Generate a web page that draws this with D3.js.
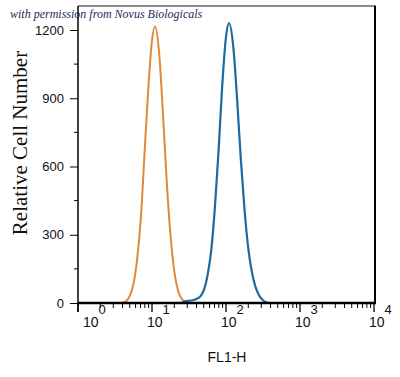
<html>
<head>
<meta charset="UTF-8">
<script src="https://d3js.org/d3.v7.min.js"></script>
<style>
  body { margin: 0; background: #fff; }
  .tick text { font-family: "Liberation Sans", Arial, sans-serif; }
</style>
</head>
<body>
<svg id="svg1" width="400" height="377"></svg>
<script>
  // FL1-H channel values and cell counts
  const isotypeFL1 = [4.0, 4.5, 5.0, 5.6, 6.3, 7.1, 7.9, 8.9, 10, 11, 12.6, 14.1, 15.8, 17.8, 20, 22.4, 25.1, 28.2, 31.6];
  const isotypeCount = [0, 9, 30, 82, 193, 383, 649, 938, 1154, 1215, 1083, 825, 536, 296, 140, 56, 19, 6, 0];

  const stainedFL1 = [25.1, 28.2, 31.6, 35.5, 39.8, 44.7, 50.1, 56.2, 63.1, 70.8, 79.4, 89.1, 100, 110, 126, 141, 158, 178, 200, 224, 251, 282, 316, 355, 398];
  const stainedCount = [0, 8, 10, 12, 18, 28, 55, 120, 230, 420, 670, 960, 1170, 1230, 1120, 900, 640, 410, 240, 135, 70, 32, 12, 2, 0];

  const yTicks = [0, 300, 600, 900, 1200];
  const yMinor = [150, 450, 750, 1050];
  const xDecades = [0, 1, 2, 3, 4];

  const svg = d3.select('svg#svg1');
  const plotLeft = 78, plotRight = 375, plotTop = 6, plotBottom = 303;

  const x = d3.scaleLog().domain([1, 10000]).range([plotLeft, 374]);
  const y = d3.scaleLinear().domain([0, 1200]).range([plotBottom, 30]);

  // frame: grey top, black right
  svg.append('line').attr('x1', plotLeft).attr('x2', plotRight + 1).attr('y1', plotTop).attr('y2', plotTop)
     .attr('stroke', '#8a8a8a').attr('stroke-width', 2);
  svg.append('line').attr('x1', plotRight).attr('x2', plotRight).attr('y1', plotTop).attr('y2', plotBottom)
     .attr('stroke', '#000').attr('stroke-width', 2);

  // curves
  const line = d3.line()
      .x(d => x(d[0]))
      .y(d => y(d[1]))
      .curve(d3.curveMonotoneX);

  svg.append('path')
     .datum(d3.zip(isotypeFL1, isotypeCount))
     .attr('d', line)
     .attr('fill', 'none')
     .attr('stroke', '#e2883c')
     .attr('stroke-width', 2);

  svg.append('path')
     .datum(d3.zip(stainedFL1, stainedCount))
     .attr('d', line)
     .attr('fill', 'none')
     .attr('stroke', '#1e6aa0')
     .attr('stroke-width', 2.2);

  // y axis
  const yAxis = svg.append('g').attr('transform', `translate(${plotLeft},0)`);
  yAxis.call(d3.axisLeft(y).tickValues(yTicks).tickFormat(d3.format('d')).tickSize(8).tickPadding(6))
       .call(g => g.select('.domain').remove());
  yAxis.selectAll('.tick text').attr('font-size', 13).attr('fill', '#111');
  yAxis.selectAll('.minor').data(yMinor).enter().append('line')
       .attr('x1', -4).attr('x2', 0)
       .attr('y1', d => y(d)).attr('y2', d => y(d))
       .attr('stroke', '#000');
  svg.append('line').attr('x1', plotLeft).attr('x2', plotLeft).attr('y1', plotTop).attr('y2', 312)
     .attr('stroke', '#000').attr('stroke-width', 1.5);

  // x axis
  const minor = [];
  xDecades.slice(0, -1).forEach(p => {
    for (let k = 2; k <= 9; k++) minor.push(k * Math.pow(10, p));
  });
  const xAxis = svg.append('g').attr('transform', `translate(0,${plotBottom})`);
  xAxis.selectAll('.minor').data(minor).enter().append('line')
       .attr('x1', d => x(d)).attr('x2', d => x(d))
       .attr('y1', 0).attr('y2', 5)
       .attr('stroke', '#000');
  xAxis.selectAll('.major').data(xDecades).enter().append('line')
       .attr('x1', d => x(Math.pow(10, d))).attr('x2', d => x(Math.pow(10, d)))
       .attr('y1', 0).attr('y2', 9)
       .attr('stroke', '#000').attr('stroke-width', 1.3);
  const lbl = xAxis.selectAll('.lbl').data(xDecades).enter().append('text')
       .attr('x', (d, i) => x(Math.pow(10, d)) + (i === 0 ? 5 : -5))
       .attr('y', 24)
       .attr('font-family', '"Liberation Sans", Arial, sans-serif')
       .attr('font-size', 14)
       .attr('fill', '#111');
  lbl.append('tspan').text('10');
  lbl.append('tspan').attr('dy', -13).attr('font-size', 13).text(d => d);
  svg.append('line').attr('x1', plotLeft).attr('x2', plotRight + 1).attr('y1', plotBottom).attr('y2', plotBottom)
     .attr('stroke', '#000').attr('stroke-width', 2.5);

  // titles
  svg.append('text')
     .attr('x', 227).attr('y', 362)
     .attr('text-anchor', 'middle')
     .attr('font-family', '"Liberation Sans", Arial, sans-serif')
     .attr('font-size', 14).attr('fill', '#111')
     .text('FL1-H');

  svg.append('text')
     .attr('transform', 'translate(27,143) rotate(-90)')
     .attr('text-anchor', 'middle')
     .attr('font-family', '"Liberation Serif", "Times New Roman", serif')
     .attr('font-size', 21).attr('fill', '#111')
     .text('Relative Cell Number');

  svg.append('text')
     .attr('x', 10).attr('y', 18)
     .attr('font-family', '"Liberation Serif", serif')
     .attr('font-style', 'italic')
     .attr('font-size', 12).attr('fill', '#1c2a5a')
     .text('with permission from Novus Biologicals');
</script>
</body>
</html>
